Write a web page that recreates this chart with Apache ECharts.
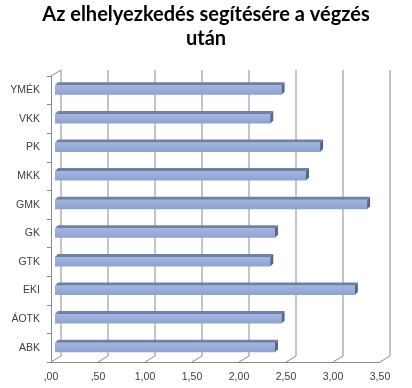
<!DOCTYPE html>
<html>
<head>
<meta charset="utf-8">
<script src="https://cdn.jsdelivr.net/npm/echarts@6/dist/echarts.min.js"></script>
<style>html,body{margin:0;padding:0;background:#fff}#c{width:412px;height:388px}</style>
</head>
<body>
<div id="c"></div>
<script>
var categories = ['ABK', 'ÁOTK', 'EKI', 'GTK', 'GK', 'GMK', 'MKK', 'PK', 'VKK', 'YMÉK'];
var values = [2.34, 2.41, 3.19, 2.29, 2.34, 3.32, 2.67, 2.82, 2.29, 2.41];
var xTicks = [0, 0.5, 1, 1.5, 2, 2.5, 3, 3.5];
var xTickLabels = [',00', ',50', '1,00', '1,50', '2,00', '2,50', '3,00', '3,50'];

var DX = 10, DY = -6;   // wall depth
var BX = 4;             // bar front offset
var gridColor = '#8a8a8a';

var chart = echarts.init(document.getElementById('c'));
chart.setOption({
  animation: false,
  title: {
    text: 'Az elhelyezkedés segítésére a végzés\nután',
    left: 'center', top: 3, padding: 0,
    textStyle: {fontFamily: 'Lato', fontWeight: 'bold', fontSize: 20, lineHeight: 24, color: '#000'}
  },
  grid: {left: 51, right: 32, top: 76, bottom: 26, containLabel: false},
  xAxis: {
    type: 'value', min: 0, max: 3.5, interval: 0.5,
    axisLine: {show: true, lineStyle: {color: gridColor}},
    axisTick: {show: false},
    splitLine: {show: false},
    axisLabel: {
      margin: 10, color: '#404040', fontFamily: 'Liberation Sans', fontSize: 10.5,
      formatter: function (v) { var i = xTicks.indexOf(v); return i >= 0 ? xTickLabels[i] : ''; }
    }
  },
  yAxis: {
    type: 'category', data: categories,
    axisLine: {show: true, lineStyle: {color: gridColor}},
    axisTick: {show: true, length: 4, lineStyle: {color: gridColor}},
    axisLabel: {margin: 11, color: '#404040', fontFamily: 'Liberation Sans', fontSize: 10.5}
  },
  series: [
    {
      type: 'custom', clip: false, silent: true, z: 1,
      data: xTicks.map(function (t) { return [t, 0]; }),
      encode: {x: 0, y: 1},
      renderItem: function (params, api) {
        var cs = params.coordSys;
        var x = api.coord([api.value(0), 0])[0];
        var top = cs.y, bot = cs.y + cs.height;
        var st = {stroke: gridColor, lineWidth: 1, fill: null};
        var ch = [
          {type: 'line', shape: {x1: x, y1: bot, x2: x + DX, y2: bot + DY}, style: st},
          {type: 'line', shape: {x1: x + DX, y1: bot + DY, x2: x + DX, y2: top + DY}, style: st}
        ];
        if (params.dataIndex === 0) {
          ch.push({type: 'line', shape: {x1: x, y1: top, x2: x + DX, y2: top + DY}, style: st});
        }
        return {type: 'group', children: ch};
      }
    },
    {
      type: 'custom', clip: false, z: 3,
      data: values.map(function (v, i) { return [v, i]; }),
      encode: {x: 0, y: 1},
      renderItem: function (params, api) {
        var s = api.coord([0, api.value(1)]);
        var e = api.coord([api.value(0), api.value(1)]);
        var yc = s[1];
        var x0 = s[0] + BX, x1 = e[0] + BX;
        var yt = yc - 5, yb = yc + 4.5, d = 3;
        return {type: 'group', children: [
          {type: 'rect', shape: {x: x0, y: yt, width: x1 - x0, height: yb - yt},
           style: {fill: new echarts.graphic.LinearGradient(0, 0, 0, 1, [
             {offset: 0, color: '#a3b6de'}, {offset: 1, color: '#8ca2d2'}])}},
          {type: 'polygon', shape: {points: [[x0, yt], [x0 + d, yt - d], [x1 + d, yt - d], [x1, yt]]},
           style: {fill: '#6e7fa9'}},
          {type: 'polygon', shape: {points: [[x1, yt], [x1 + d, yt - d], [x1 + d, yb - d], [x1, yb]]},
           style: {fill: '#56658f'}}
        ]};
      }
    }
  ]
});
</script>
</body>
</html>
